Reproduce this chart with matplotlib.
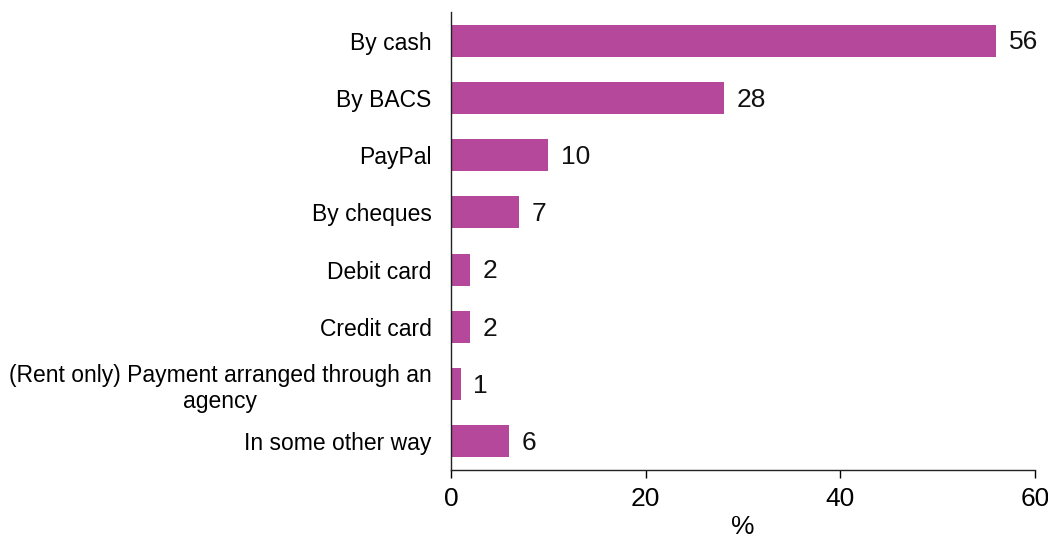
import matplotlib
matplotlib.use("Agg")
import matplotlib.pyplot as plt
import numpy as np

plt.rcParams["font.family"] = ["Liberation Sans", "DejaVu Sans"]

categories = ["By cash", "By BACS", "PayPal", "By cheques", "Debit card",
              "Credit card", "(Rent only) Payment arranged through an\nagency",
              "In some other way"]
values = [56, 28, 10, 7, 2, 2, 1, 6]
xticks = [0, 20, 40, 60]

fig = plt.figure(figsize=(10.48, 5.43), dpi=100)
ax = fig.add_axes([0.4303, 0.1344, 0.5573, 0.8436])

y = np.arange(len(categories))
ax.barh(y, values, height=0.56, color="#B5489A")
ax.set_ylim(len(categories) - 0.5, -0.5)
ax.set_xlim(0, 60)

for yi, v in zip(y, values):
    ax.text(v + 1.3, yi + 0.03, str(v), va="center", ha="left", fontsize=19, color="#111111")

ax.set_yticks(y)
ax.set_yticklabels(categories, fontsize=16.5)
ax.tick_params(axis="y", length=0, pad=14)
# right-aligned labels; the wrapped one has its lines centred
for lbl in ax.get_yticklabels():
    lbl.set_ha("right")
    lbl.set_multialignment("center")
ax.set_xticks(xticks)
ax.tick_params(axis="x", direction="out", length=6, labelsize=19, pad=6, width=1)
ax.set_xlabel("%", fontsize=19, labelpad=3)

for s in ["top", "right"]:
    ax.spines[s].set_visible(False)
for s in ["left", "bottom"]:
    ax.spines[s].set_color("#222222")
    ax.spines[s].set_linewidth(1)

fig.savefig("out.png", dpi=100)
